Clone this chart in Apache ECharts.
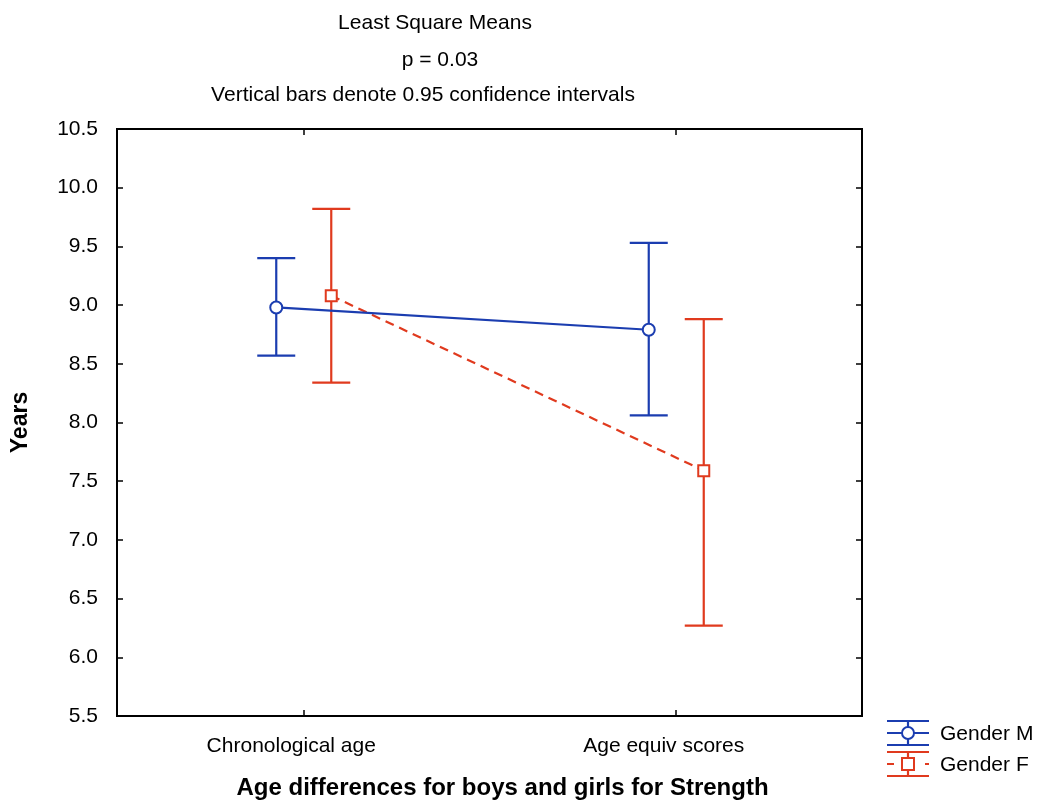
<!DOCTYPE html>
<html>
<head>
<meta charset="utf-8">
<script src="https://cdn.jsdelivr.net/npm/echarts@6/dist/echarts.min.js"></script>
<style>
html,body{margin:0;padding:0;background:#fff;}
#main{width:1040px;height:802px;}
</style>
</head>
<body>
<div id="main"></div>
<script>
// 数据
var categories=["Chronological age","Age equiv scores"];
var genders=["Gender M","Gender F"];
var meanM=[8.98,8.79];
var lowM=[8.57,8.06];
var highM=[9.40,9.53];
var meanF=[9.08,7.59];
var lowF=[8.34,6.27];
var highF=[9.82,8.88];
var yTicks=[5.5,10.5,0.5]; // min,max,interval

var blue='#1b3db0';
var red='#e03a1e';
var fontR='"Liberation Sans",Arial,sans-serif';

var myChart=echarts.init(document.getElementById('main'));

function makeSeries(name,mean,low,high,color,shift,dashed,isCircle){
    var data=[];
    for(var i=0;i<mean.length;i++){
        data.push([i,mean[i],low[i],high[i]]);
    };
    return {
        name:name,
        type:'custom',
        xAxisIndex:0,
        yAxisIndex:0,
        data:data,
        z:isCircle?3:2,
        renderItem:function(params,api){
            var i=params.dataIndex;
            var c=api.coord([api.value(0),api.value(1)]);
            var lo=api.coord([api.value(0),api.value(2)]);
            var hi=api.coord([api.value(0),api.value(3)]);
            var x=c[0]+shift;
            var cap=19;
            var st={stroke:color,lineWidth:2.2,fill:'none'};
            var kids=[];
            if(i>0){
                var p=api.coord([i-1,mean[i-1]]);
                kids.push({type:'line',shape:{x1:p[0]+shift,y1:p[1],x2:x,y2:c[1]},
                    style:{stroke:color,lineWidth:2.2,lineDash:dashed?[9,6]:null}});
            }
            kids.push({type:'line',shape:{x1:x,y1:lo[1],x2:x,y2:hi[1]},style:st});
            kids.push({type:'line',shape:{x1:x-cap,y1:lo[1],x2:x+cap,y2:lo[1]},style:st});
            kids.push({type:'line',shape:{x1:x-cap,y1:hi[1],x2:x+cap,y2:hi[1]},style:st});
            if(isCircle){
                kids.push({type:'circle',shape:{cx:x,cy:c[1],r:6},style:{stroke:color,lineWidth:2,fill:'#fff'},z2:10});
            }else{
                kids.push({type:'rect',shape:{x:x-5.5,y:c[1]-5.5,width:11,height:11},style:{stroke:color,lineWidth:2,fill:'#fff'},z2:10});
            }
            return {type:'group',children:kids};
        }
    };
};

// 图例
function legendItem(y,color,label,dashed,isCircle){
    var st={stroke:color,lineWidth:2.2};
    var kids=[
        {type:'line',shape:{x1:887,y1:y-12,x2:929,y2:y-12},style:st},
        {type:'line',shape:{x1:887,y1:y+12,x2:929,y2:y+12},style:st},
        {type:'line',shape:{x1:908,y1:y-12,x2:908,y2:y+12},style:st},
        {type:'line',shape:{x1:887,y1:y,x2:929,y2:y},style:{stroke:color,lineWidth:2.2,lineDash:dashed?[7,12]:null}}
    ];
    if(isCircle){
        kids.push({type:'circle',shape:{cx:908,cy:y,r:6},style:{stroke:color,lineWidth:2,fill:'#fff'}});
    }else{
        kids.push({type:'rect',shape:{x:902,y:y-6,width:12,height:12},style:{stroke:color,lineWidth:2,fill:'#fff'}});
    }
    kids.push({type:'text',style:{x:940,y:y+1,text:label,fill:'#000',font:'21px '+fontR,textVerticalAlign:'middle'}});
    return {type:'group',children:kids};
};

var tickStyle={show:true,inside:true,length:6,lineStyle:{color:'#000',width:1.5}};
var titleStyle={fontFamily:fontR,fontSize:21,fontWeight:'normal',color:'#000'};

var option={
    backgroundColor:'#fff',
    animation:false,
    title:[
        {text:'Least Square Means',left:430,top:8,textAlign:'center',textStyle:titleStyle},
        {text:'p = 0.03',left:435,top:45,textAlign:'center',textStyle:titleStyle},
        {text:'Vertical bars denote 0.95 confidence intervals',left:418,top:80,textAlign:'center',textStyle:titleStyle}
    ],
    grid:{left:117,right:178,top:129,bottom:86,outerBoundsMode:'none',show:true,borderColor:'#000',borderWidth:2,backgroundColor:'#fff'},
    xAxis:[
        {type:'category',data:categories,boundaryGap:true,position:'bottom',
            axisLine:{show:true,lineStyle:{color:'#000',width:2}},
            axisTick:{show:true,inside:true,alignWithLabel:true,length:6,lineStyle:{color:'#000',width:1.5}},
            axisLabel:{color:'#000',fontFamily:fontR,fontSize:21,margin:20,padding:[0,24,0,0]},
            name:'Age differences for boys and girls for Strength',nameLocation:'middle',nameGap:60,
            nameTextStyle:{color:'#000',fontFamily:fontR,fontSize:24,fontWeight:'bold',padding:[0,0,0,26]}},
        {type:'category',data:categories,boundaryGap:true,position:'top',
            axisLine:{show:false},
            axisTick:{show:true,inside:true,alignWithLabel:true,length:6,lineStyle:{color:'#000',width:1.5}},
            axisLabel:{show:false}}
    ],
    yAxis:[
        {type:'value',min:yTicks[0],max:yTicks[1],interval:yTicks[2],position:'left',
            axisLine:{show:true,lineStyle:{color:'#000',width:2}},
            axisTick:tickStyle,splitLine:{show:false},
            axisLabel:{color:'#000',fontFamily:fontR,fontSize:21,margin:19,formatter:function(v){return v.toFixed(1);}},
            name:'Years',nameLocation:'middle',nameGap:85,
            nameTextStyle:{color:'#000',fontFamily:fontR,fontSize:23,fontWeight:'bold'}},
        {type:'value',min:yTicks[0],max:yTicks[1],interval:yTicks[2],position:'right',
            axisLine:{show:false},axisTick:tickStyle,splitLine:{show:false},axisLabel:{show:false}}
    ],
    series:[
        makeSeries(genders[0],meanM,lowM,highM,blue,-27,false,true),
        makeSeries(genders[1],meanF,lowF,highF,red,28,true,false)
    ],
    graphic:[
        legendItem(733,blue,genders[0],false,true),
        legendItem(764,red,genders[1],true,false)
    ]
};

myChart.setOption(option);
</script>
</body>
</html>
